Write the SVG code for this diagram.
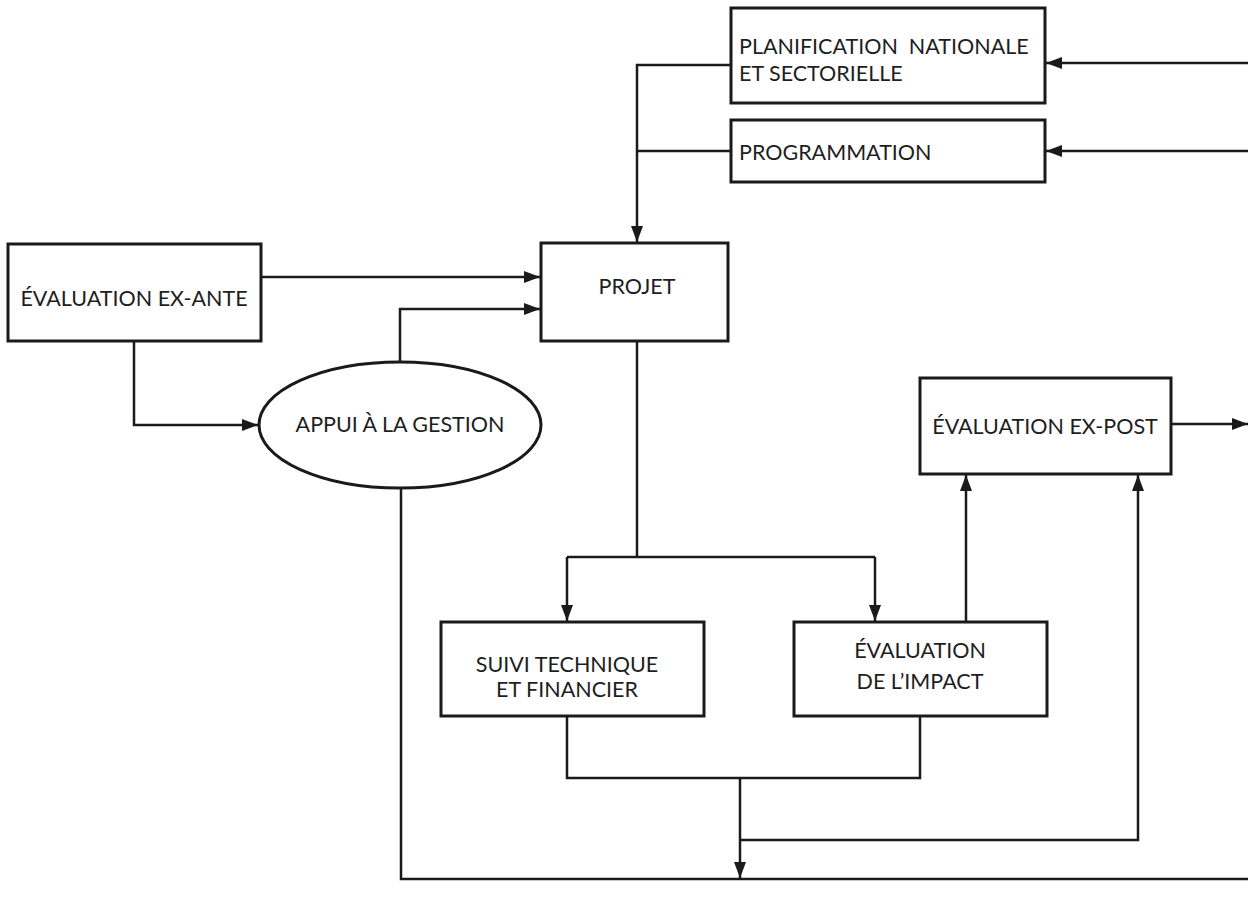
<svg xmlns="http://www.w3.org/2000/svg" width="1248" height="907" viewBox="0 0 1248 907">
  <style>
    .box { fill: #ffffff; stroke: #1a1a1a; stroke-width: 3; }
    .wire { fill: none; stroke: #1a1a1a; stroke-width: 2.5; }
    .lbl { font-family: Lato, "Liberation Sans", sans-serif; font-size: 21.5px; fill: #1e1e1e; }
    .mid { text-anchor: middle; }
  </style>
  <defs>
    <marker id="arrow" markerUnits="userSpaceOnUse" markerWidth="16" markerHeight="14" viewBox="0 0 16 14" refX="16" refY="7" orient="auto">
      <path d="M0,1 L16,7 L0,13 Z" fill="#1a1a1a"/>
    </marker>
  </defs>
  <rect width="1248" height="907" fill="#ffffff"/>

  <!-- connectors -->
  <g id="connectors">
    <path class="wire" d="M1248,63 H1046" marker-end="url(#arrow)"/>
    <path class="wire" d="M1248,151 H1046" marker-end="url(#arrow)"/>
    <path class="wire" d="M731,65 H637 V242" marker-end="url(#arrow)"/>
    <path class="wire" d="M731,151 H637"/>
    <path class="wire" d="M261,277 H540" marker-end="url(#arrow)"/>
    <path class="wire" d="M400,362 V309 H540" marker-end="url(#arrow)"/>
    <path class="wire" d="M134,341 V425 H258" marker-end="url(#arrow)"/>
    <path class="wire" d="M401,488 V879 H1248"/>
    <path class="wire" d="M637,341 V557"/>
    <path class="wire" d="M567,557 H875"/>
    <path class="wire" d="M567,557 V621" marker-end="url(#arrow)"/>
    <path class="wire" d="M875,557 V621" marker-end="url(#arrow)"/>
    <path class="wire" d="M966,622 V475" marker-end="url(#arrow)"/>
    <path class="wire" d="M1171,424 H1248" marker-end="url(#arrow)"/>
    <path class="wire" d="M567,716 V778 H920 V716"/>
    <path class="wire" d="M740,778 V878" marker-end="url(#arrow)"/>
    <path class="wire" d="M740,840 H1138 V475" marker-end="url(#arrow)"/>
  </g>

  <g id="planification">
    <rect class="box" x="731" y="8" width="314" height="95"/>
    <text class="lbl" x="739" y="54" xml:space="preserve">PLANIFICATION  NATIONALE</text>
    <text class="lbl" x="739" y="81">ET SECTORIELLE</text>
  </g>
  <g id="programmation">
    <rect class="box" x="731" y="120" width="314" height="62"/>
    <text class="lbl" x="739" y="160">PROGRAMMATION</text>
  </g>
  <g id="projet">
    <rect class="box" x="541" y="243" width="187" height="98"/>
    <text class="lbl mid" x="637" y="294">PROJET</text>
  </g>
  <g id="evaluation-ex-ante">
    <rect class="box" x="8" y="244" width="253" height="97"/>
    <text class="lbl mid" x="134" y="306">ÉVALUATION EX-ANTE</text>
  </g>
  <g id="appui-gestion">
    <ellipse class="box" cx="400" cy="425" rx="141" ry="63"/>
    <text class="lbl mid" x="400" y="432">APPUI À LA GESTION</text>
  </g>
  <g id="evaluation-ex-post">
    <rect class="box" x="920" y="378" width="251" height="96"/>
    <text class="lbl mid" x="1045" y="434">ÉVALUATION EX-POST</text>
  </g>
  <g id="suivi">
    <rect class="box" x="441" y="622" width="263" height="94"/>
    <text class="lbl mid" x="567" y="672">SUIVI TECHNIQUE</text>
    <text class="lbl mid" x="567" y="697">ET FINANCIER</text>
  </g>
  <g id="evaluation-impact">
    <rect class="box" x="794" y="622" width="253" height="94"/>
    <text class="lbl mid" x="920" y="658">ÉVALUATION</text>
    <text class="lbl mid" x="920" y="689">DE L’IMPACT</text>
  </g>
</svg>
